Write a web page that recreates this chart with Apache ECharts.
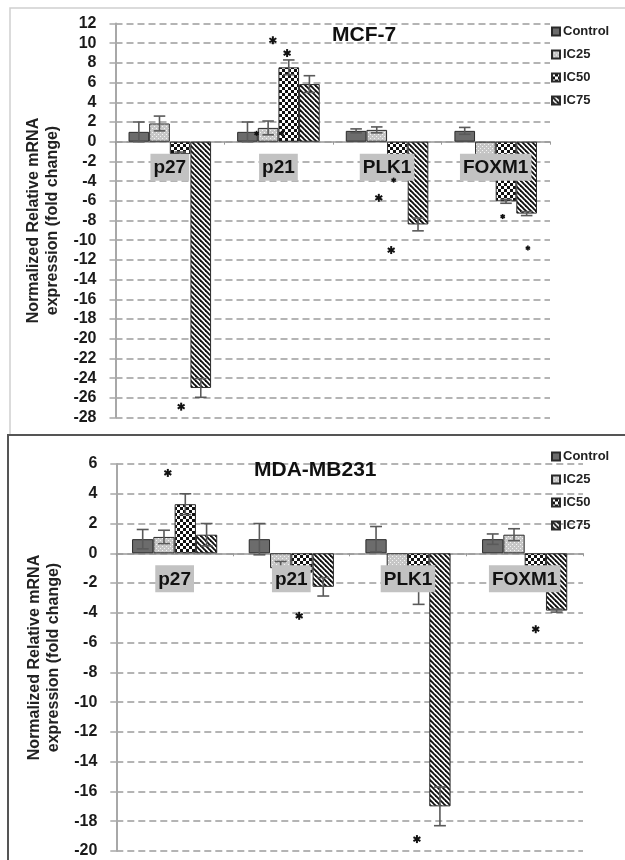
<!DOCTYPE html>
<html><head><meta charset="utf-8">
<script src="https://cdn.jsdelivr.net/npm/echarts@6/dist/echarts.min.js"></script>
<style>html,body{margin:0;padding:0;background:#fff}#c{width:625px;height:860px}</style>
</head><body><div id="c"></div>
<script>
// ---------- DATA ----------
const categories = ['p27', 'p21', 'PLK1', 'FOXM1'];
const seriesNames = ['Control', 'IC25', 'IC50', 'IC75'];

// MCF-7 (top panel)
const mcfControl = [1.0, 1.0, 1.1, 1.1];
const mcfIC25    = [1.85, 1.4, 1.2, -2.5];
const mcfIC50    = [-1.25, 7.55, -3.3, -6.05];
const mcfIC75    = [-25.0, 5.85, -8.4, -7.3];
const mcfErrControl = [1.0, 1.0, 0.2, 0.35];
const mcfErrIC25    = [0.75, 0.7, 0.3, 0.3];
const mcfErrIC50    = [0.2, 0.75, 0.3, 0.2];
const mcfErrIC75    = [0.95, 0.85, 0.65, 0.2];
// significance stars: [category index, bar slot, value, size]
const mcfStars = [[0, 2.05, -26.9, 8], [1, 1.23, 10.3, 8], [1, 1.92, 9.0, 8], [1, 0.44, 0.85, 5], [1, 1.66, 0.85, 5],
                  [2, 1.82, -3.9, 5], [2, 1.1, -5.7, 8], [2, 1.7, -11.0, 8], [3, 1.84, -7.6, 5], [3, 3.06, -10.8, 5]];
const mcfTicks = {min: -28, max: 12, step: 2};

// MDA-MB231 (bottom panel)
const mdaControl = [0.95, 0.95, 0.95, 0.95];
const mdaIC25    = [1.1, -1.0, -1.9, 1.25];
const mdaIC50    = [3.3, -1.3, -2.5, -1.3];
const mdaIC75    = [1.25, -2.25, -17.0, -3.85];
const mdaErrControl = [0.65, 1.05, 0.85, 0.35];
const mdaErrIC25    = [0.45, 0.45, 0.57, 0.4];
const mdaErrIC50    = [0.7, 0.3, 0.93, 0.3];
const mdaErrIC75    = [0.75, 0.62, 1.3, 0.1];
const mdaStars = [[0, 1.18, 5.4, 8], [1, 1.87, -4.2, 8], [2, 1.92, -19.2, 8], [3, 2.02, -5.1, 8]];
const mdaTicks = {min: -20, max: 6, step: 2};

const yTitle = 'Normalized Relative mRNA\nexpression (fold change)';

// ---------- PATTERNS ----------
function tile(w, h, draw) { const c = document.createElement('canvas'); c.width = w; c.height = h; draw(c.getContext('2d')); return {image: c, repeat: 'repeat'}; }
const patControl = '#6c6c6c';
const patIC25 = tile(4, 4, g => { g.fillStyle = '#c6c6c6'; g.fillRect(0,0,4,4); g.fillStyle = '#f4f4f4'; g.fillRect(0,0,1,1); g.fillRect(2,2,1,1); });
const patIC50 = tile(6, 6, g => { g.fillStyle = '#111'; g.fillRect(0,0,6,6); g.fillStyle = '#fff'; g.fillRect(0,0,3,3); g.fillRect(3,3,3,3); });
const patIC75 = tile(5, 5, g => { g.fillStyle = '#fff'; g.fillRect(0,0,5,5); g.strokeStyle = '#111'; g.lineWidth = 1.9;
  for (const k of [-1, 0, 1]) { g.beginPath(); g.moveTo(k*5 - 1, -1); g.lineTo(k*5 + 6, 6); g.stroke(); } });
const fills = [patControl, patIC25, patIC50, patIC75];

// ---------- HELPERS ----------
const FONT = '"Liberation Sans", Arial, sans-serif';
function errRender(gap) {
  return function (params, api) {
    const i = api.value(0), slot = api.value(1), v = api.value(2), e = api.value(3);
    const band = api.size([1, 0])[0];
    const bw = band * (1 - gap) / 4;
    const cx = api.coord([i, v])[0] + (slot - 1.5) * bw;
    const yHi = api.coord([i, v + e])[1], yLo = api.coord([i, v - e])[1];
    const cap = bw * 0.28;
    const st = {stroke: '#5a5a5a', lineWidth: 1.6};
    return {type: 'group', children: [
      {type: 'line', shape: {x1: cx, y1: yHi, x2: cx, y2: yLo}, style: st},
      {type: 'line', shape: {x1: cx - cap, y1: yHi, x2: cx + cap, y2: yHi}, style: st},
      {type: 'line', shape: {x1: cx - cap, y1: yLo, x2: cx + cap, y2: yLo}, style: st}
    ]};
  };
}
function starRender(gap) {
  return function (params, api) {
    const i = api.value(0), slot = api.value(1), v = api.value(2), s = api.value(3);
    const band = api.size([1, 0])[0];
    const bw = band * (1 - gap) / 4;
    const p = api.coord([i, v]);
    const cx = p[0] + (slot - 1.5) * bw, cy = p[1];
    const r = s / 2, ch = [];
    for (let k = 0; k < 3; k++) {
      const a = Math.PI / 2 + k * Math.PI / 3;
      ch.push({type: 'line', shape: {x1: cx - r*Math.cos(a), y1: cy - r*Math.sin(a), x2: cx + r*Math.cos(a), y2: cy + r*Math.sin(a)},
               style: {stroke: '#111', lineWidth: s > 6 ? 2 : 1.6}});
    }
    return {type: 'group', children: ch};
  };
}
function labelRender(params, api) {
  const i = api.value(0);
  const p = api.coord([i, 0]);
  return {type: 'text', x: p[0], y: p[1] + 12, style: {
    text: categories[i], fontFamily: FONT, fontWeight: 'bold', fontSize: 19, fill: '#111',
    backgroundColor: '#c2c2c2', padding: [5, 3, 3, 3], align: 'center', verticalAlign: 'top'}};
}
function errData(vals, errs) {
  const out = [];
  vals.forEach((arr, s) => arr.forEach((v, i) => out.push([i, s, v, errs[s][i]])));
  return out;
}
const labelData = categories.map((c, i) => [i, 0]);

const gapTop = 0.24, gapBot = 0.27;
const grids = [
  {left: 115.5, right: 75, top: 23.5, height: 394},
  {left: 116.3, right: 42, top: 464, height: 387}
];
function yAxisFor(gi, t) {
  return {
    type: 'value', gridIndex: gi, min: t.min, max: t.max, interval: t.step,
    name: yTitle, nameLocation: 'middle', nameGap: 52, nameRotate: 90,
    nameTextStyle: {fontFamily: FONT, fontWeight: 'bold', fontSize: 16, lineHeight: 19, color: '#222'},
    axisLine: {show: true, lineStyle: {color: '#a8a8a8', width: 2}},
    axisTick: {show: true, length: 6, lineStyle: {color: '#a8a8a8', width: 1.5}},
    axisLabel: {fontFamily: FONT, fontWeight: 'bold', fontSize: 16, color: '#1a1a1a', margin: 19},
    splitLine: {show: true, lineStyle: {color: '#b4b4b4', width: 2, type: [7, 4]}}
  };
}
function xAxisFor(gi) {
  return {
    type: 'category', gridIndex: gi, data: categories,
    axisLine: {onZero: true, lineStyle: {color: '#999', width: 1.5}},
    axisTick: {show: true, length: 3, lineStyle: {color: '#999'}},
    axisLabel: {show: false}
  };
}
function barSeries(gi, vals, gap) {
  return vals.map((d, s) => ({
    type: 'bar', name: seriesNames[s], xAxisIndex: gi, yAxisIndex: gi, data: d,
    barGap: '0%', barCategoryGap: (gap * 100) + '%',
    itemStyle: {color: fills[s], borderColor: '#2a2a2a', borderWidth: 1}, z: 2
  }));
}

const mcfVals = [mcfControl, mcfIC25, mcfIC50, mcfIC75];
const mcfErrs = [mcfErrControl, mcfErrIC25, mcfErrIC50, mcfErrIC75];
const mdaVals = [mdaControl, mdaIC25, mdaIC50, mdaIC75];
const mdaErrs = [mdaErrControl, mdaErrIC25, mdaErrIC50, mdaErrIC75];

const legendBase = {orient: 'vertical', itemWidth: 8, itemHeight: 8, itemGap: 10, icon: 'rect',
  textStyle: {fontFamily: FONT, fontWeight: 'bold', fontSize: 13, color: '#222', padding: [0, 0, 0, -2]}, data: seriesNames};

const option = {
  animation: false,
  backgroundColor: '#fff',
  graphic: [
    {type: 'rect', shape: {x: 10, y: 8, width: 640, height: 440}, style: {fill: 'none', stroke: '#cfcfcf', lineWidth: 1.5}, silent: true, z: -1},
    {type: 'rect', shape: {x: 8, y: 435, width: 640, height: 440}, style: {fill: '#fff', stroke: '#555', lineWidth: 2}, silent: true, z: -1}
  ],
  title: [
    {text: 'MCF-7', left: 327, top: 20, textStyle: {fontFamily: FONT, fontWeight: 'bold', fontSize: 21, color: '#111'}},
    {text: 'MDA-MB231', left: 249, top: 455, textStyle: {fontFamily: FONT, fontWeight: 'bold', fontSize: 21, color: '#111'}}
  ],
  legend: [
    Object.assign({left: 546, top: 20}, legendBase),
    Object.assign({left: 546, top: 445}, legendBase)
  ],
  grid: grids,
  xAxis: [xAxisFor(0), xAxisFor(1)],
  yAxis: [yAxisFor(0, mcfTicks), yAxisFor(1, mdaTicks)],
  series: [
    ...barSeries(0, mcfVals, gapTop),
    ...barSeries(1, mdaVals, gapBot),
    {type: 'custom', xAxisIndex: 0, yAxisIndex: 0, renderItem: errRender(gapTop), data: errData(mcfVals, mcfErrs), encode: {x: 0, y: 2}, z: 3, silent: true},
    {type: 'custom', xAxisIndex: 1, yAxisIndex: 1, renderItem: errRender(gapBot), data: errData(mdaVals, mdaErrs), encode: {x: 0, y: 2}, z: 3, silent: true},
    {type: 'custom', xAxisIndex: 0, yAxisIndex: 0, renderItem: labelRender, data: labelData, encode: {x: 0, y: 1}, z: 10, silent: true},
    {type: 'custom', xAxisIndex: 1, yAxisIndex: 1, renderItem: labelRender, data: labelData, encode: {x: 0, y: 1}, z: 10, silent: true},
    {type: 'custom', xAxisIndex: 0, yAxisIndex: 0, renderItem: starRender(gapTop), data: mcfStars, encode: {x: 0, y: 2}, z: 12, silent: true},
    {type: 'custom', xAxisIndex: 1, yAxisIndex: 1, renderItem: starRender(gapBot), data: mdaStars, encode: {x: 0, y: 2}, z: 12, silent: true}
  ]
};
const chart = echarts.init(document.getElementById('c'), null, {renderer: 'canvas'});
chart.setOption(option);
</script>
</body></html>
